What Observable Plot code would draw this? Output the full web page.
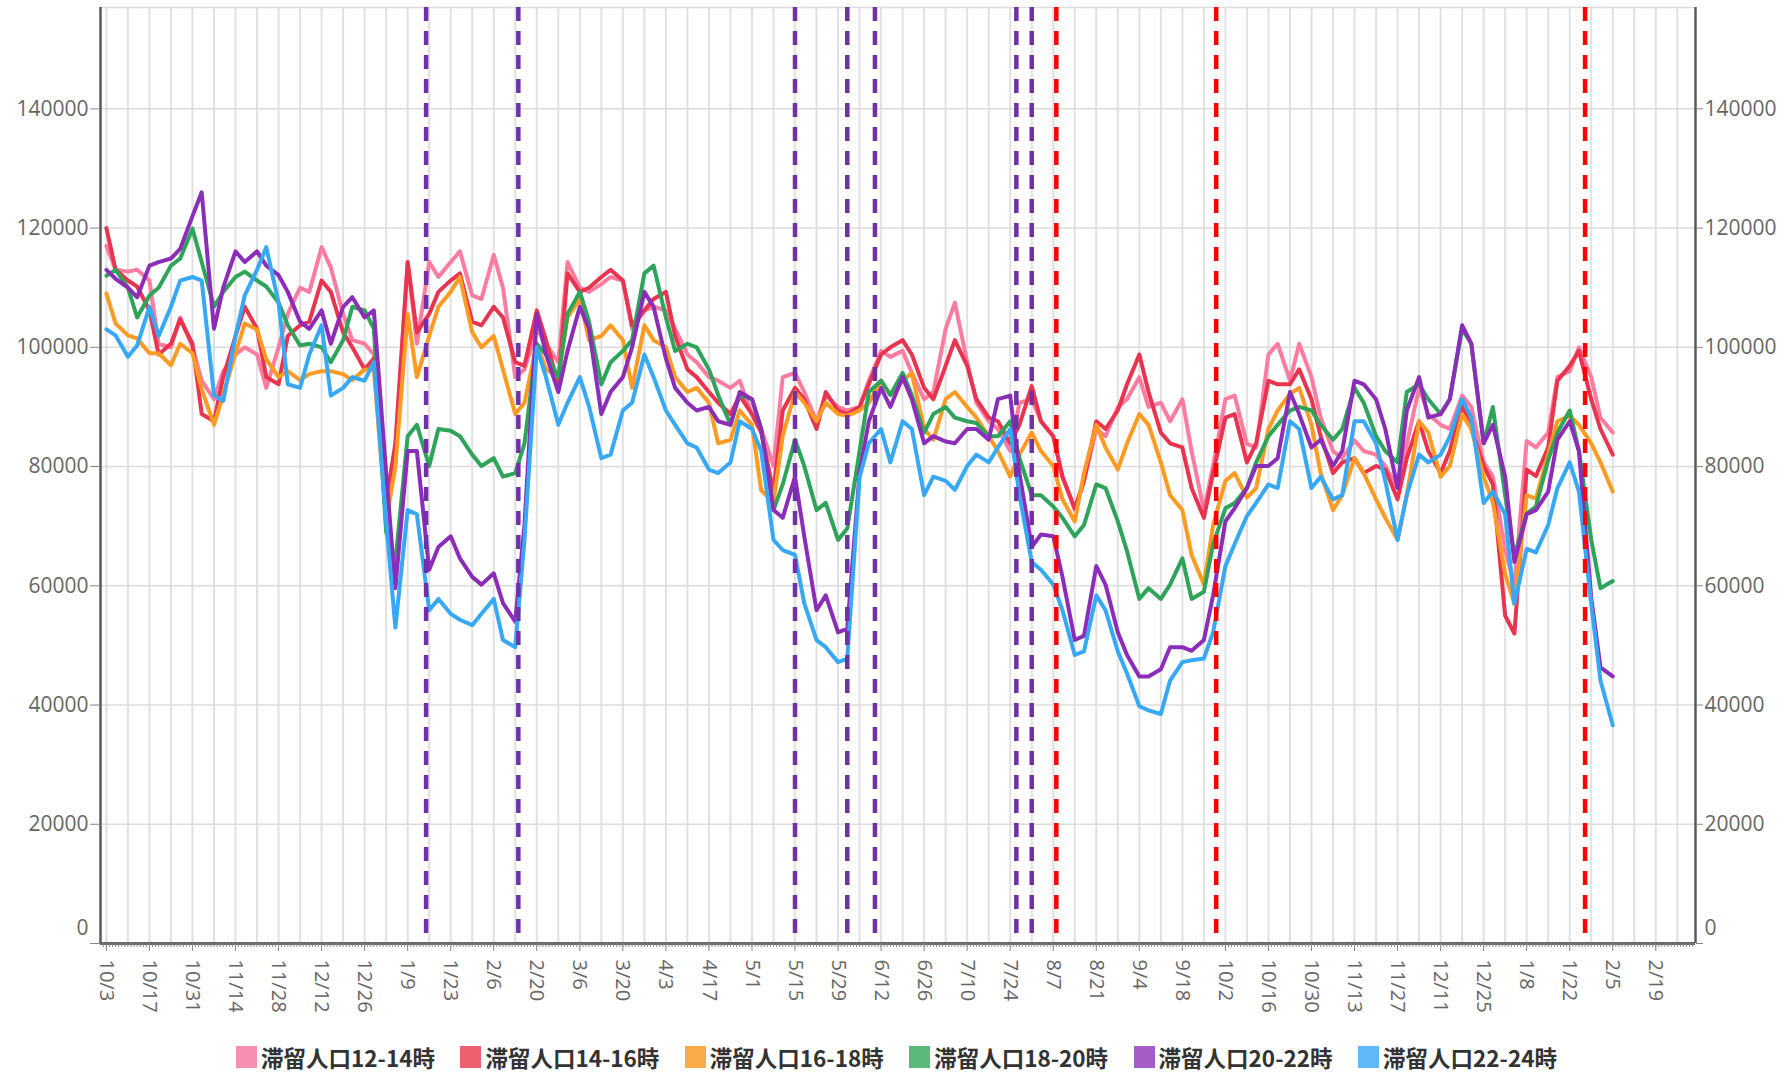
<!DOCTYPE html>
<html><head><meta charset="utf-8">
<script src="https://cdn.jsdelivr.net/npm/d3@7"></script>
<script src="https://cdn.jsdelivr.net/npm/@observablehq/plot@0.6"></script>
<style>
body{margin:0;background:#fff;width:1791px;height:1072px;overflow:hidden;position:relative;}
#chart{position:absolute;left:0;top:0;}
.item{position:absolute;top:1042px;height:30px;display:flex;align-items:center;font:bold 22.5px "Noto Sans CJK JP",sans-serif;line-height:26px;color:#333;white-space:nowrap;}
.sw{width:21px;height:22px;margin-right:4px;flex:none;}
</style></head><body>
<div id="chart"></div>
<div id="legend"></div>
<script>
const dates = [
"2020-10-03","2020-10-06","2020-10-10","2020-10-13","2020-10-17","2020-10-20","2020-10-24","2020-10-27","2020-10-31",
"2020-11-03","2020-11-07","2020-11-10","2020-11-14","2020-11-17","2020-11-21","2020-11-24","2020-11-28",
"2020-12-01","2020-12-05","2020-12-08","2020-12-12","2020-12-15","2020-12-19","2020-12-22","2020-12-26","2020-12-29",
"2021-01-02","2021-01-05","2021-01-09","2021-01-12","2021-01-16","2021-01-19","2021-01-23","2021-01-26","2021-01-30",
"2021-02-02","2021-02-06","2021-02-09","2021-02-13","2021-02-16","2021-02-20","2021-02-23","2021-02-27",
"2021-03-02","2021-03-06","2021-03-09","2021-03-13","2021-03-16","2021-03-20","2021-03-23","2021-03-27","2021-03-30",
"2021-04-03","2021-04-06","2021-04-10","2021-04-13","2021-04-17","2021-04-20","2021-04-24","2021-04-27",
"2021-05-01","2021-05-04","2021-05-08","2021-05-11","2021-05-15","2021-05-18","2021-05-22","2021-05-25","2021-05-29",
"2021-06-01","2021-06-05","2021-06-08","2021-06-12","2021-06-15","2021-06-19","2021-06-22","2021-06-26","2021-06-29",
"2021-07-03","2021-07-06","2021-07-10","2021-07-13","2021-07-17","2021-07-20","2021-07-24","2021-07-27","2021-07-31",
"2021-08-03","2021-08-07","2021-08-10","2021-08-14","2021-08-17","2021-08-21","2021-08-24","2021-08-28","2021-08-31",
"2021-09-04","2021-09-07","2021-09-11","2021-09-14","2021-09-18","2021-09-21","2021-09-25","2021-09-28",
"2021-10-02","2021-10-05","2021-10-09","2021-10-12","2021-10-16","2021-10-19","2021-10-23","2021-10-26","2021-10-30",
"2021-11-02","2021-11-06","2021-11-09","2021-11-13","2021-11-16","2021-11-20","2021-11-23","2021-11-27","2021-11-30",
"2021-12-04","2021-12-07","2021-12-11","2021-12-14","2021-12-18","2021-12-21","2021-12-25","2021-12-28",
"2022-01-01","2022-01-04","2022-01-08","2022-01-11","2022-01-15","2022-01-18","2022-01-22","2022-01-25","2022-01-29",
"2022-02-01","2022-02-05"
];

const seriesNames = ["滞留人口12-14時","滞留人口14-16時","滞留人口16-18時","滞留人口18-20時","滞留人口20-22時","滞留人口22-24時"];

const pop12_14 = [
117000,113000,112700,113000,111200,100600,100000,105000,100000,94400,91300,96000,98800,100000,98800,93200,100000,105600,110000,109300,116800,113400,105600,101200,100600,98800,
75200,82600,114300,100600,114300,111800,114300,116100,108700,108100,115500,110000,95000,96300,103100,100600,97500,114300,110000,109300,110600,111800,
111200,103100,106200,106800,106200,103100,98800,97500,95000,94400,93200,94400,88800,86300,80100,95000,95700,92500,87600,91900,90000,89400,90000,94400,
99400,98400,99400,95700,91300,92500,103100,107500,97500,90700,87600,86300,82600,90700,91300,87600,85100,78300,72700,77600,86300,85100,90000,91300,
95000,90000,90700,87600,91300,82600,72700,80100,91300,91900,83800,83200,98800,100600,94400,100600,95000,88200,82600,81400,84400,82600,82000,80100,
76400,83800,93200,88800,87000,86300,91900,90000,80700,78300,66000,60000,84300,83200,85700,95000,96000,100000,95000,88200,85700
];
const pop14_16 = [
120000,113000,111200,110200,106200,98800,100600,104700,100600,88800,87600,95000,101900,106800,103100,95000,93800,101900,103700,104300,111200,109300,102500,100000,96300,98100,
73900,83900,114300,102500,105600,109300,111200,112400,104300,103700,106800,105000,97500,96900,106200,101200,93800,112400,109300,110000,111800,113000,
111200,103700,106200,108100,109300,101900,96300,95000,92500,90700,88800,91900,88800,85700,75800,89400,93200,91300,86300,92500,89400,88800,90000,93800,
98800,100000,101200,98800,93200,91300,96900,101200,96900,91300,88200,87600,83900,87000,93500,87600,85100,78300,73000,77600,87600,86300,89400,93800,
98800,92500,85700,83900,83200,76400,71400,78900,88200,88800,80700,83900,94400,93800,93800,96300,91300,85100,78900,80700,81400,78900,80100,79500,
74500,81400,87600,82600,78900,82600,90400,86300,80100,77000,55000,52000,79500,78400,83200,94400,96900,99400,91300,86300,82000
];
const pop16_18 = [
109000,104000,102000,101500,99000,99000,97000,100600,99000,93000,87000,92000,99000,104000,103000,98000,95000,96000,94500,95500,96000,96000,95500,94500,96300,96300,
70800,80000,105600,95000,101900,106800,109300,111800,102500,100000,101900,96300,88800,90700,100600,96300,95000,105000,108100,101200,101900,103700,
101200,93200,103700,101200,100000,95000,92500,93200,90700,83900,84500,89400,87000,76000,74000,85100,92500,90700,87600,90700,88800,88500,89400,90700,
94400,92000,94400,95700,86300,84500,91300,92500,90000,88200,85100,82600,78300,82000,85700,82600,80100,74500,70800,78900,87000,83200,79500,83900,
88800,87000,80700,75200,72700,65200,60200,70200,77600,78900,74800,76400,86300,89400,92200,93200,87000,78900,72700,75200,81400,78900,74500,71400,
67700,75200,87600,85700,78300,80100,88800,86300,78300,74000,62000,57000,75200,74600,82000,87600,88500,87000,83900,80700,75800
];
const pop18_20 = [
112000,113000,110000,105000,108700,110000,113700,114900,119900,114300,106800,109300,111800,112700,111200,110200,107500,103700,100300,100600,100000,97500,101200,106800,106200,103100,
69000,64000,85100,87000,80100,86300,86000,85100,82000,80100,81400,78300,78900,83900,100600,98800,95000,105600,109300,104300,93800,97500,
99400,101200,112400,113700,105000,99400,100600,100000,96300,92000,87000,92000,91300,86300,72700,77000,84500,80100,72700,73900,67700,69600,82600,92500,
94400,92000,95700,92000,85700,88800,90000,88200,87600,87300,85100,85100,87600,81400,75200,75200,73300,71400,68300,70200,77000,76400,70800,65800,
57800,59600,57800,60200,64600,57800,59000,67000,73000,73900,76400,80700,85100,87000,89400,90000,89400,87000,84500,86300,93200,90700,85100,82600,
80700,92500,93800,91300,88800,91300,103100,100600,83900,90000,75200,65000,72100,73300,81100,85700,89400,82600,67700,59600,60800
];
const pop20_22 = [
113000,111500,110000,108400,113700,114300,114900,116500,122000,126000,103100,110000,116100,114300,116100,113700,112100,109300,104300,103100,106200,100600,106800,108400,105000,106200,
78900,59600,82600,82600,62700,66500,68300,64600,61500,60200,62100,57100,54000,70200,105600,98800,92500,99400,106800,103100,88800,92500,
95000,100000,109300,106800,98100,93200,90700,89400,90000,87600,87000,92500,91300,86300,72700,71400,78300,68300,55900,58400,52200,52800,78900,87600,
93200,90000,95000,91300,83900,85100,84200,83900,86300,86300,84500,91300,91900,78900,66500,68600,68300,61500,50900,51600,63300,60200,52200,48400,
44800,44800,46000,49700,49700,49100,50900,58400,70800,73000,76400,80100,80100,81400,92500,88800,83200,84500,80100,82600,94400,93800,91300,86300,
76400,89400,95000,88200,88800,91300,103700,100600,83900,87000,78300,64000,72000,72700,75800,84500,87600,82600,58000,46300,44800
];
const pop22_24 = [
103000,102000,98400,100300,106800,101900,106800,111200,111800,111200,92000,91000,101900,108700,113000,116800,107500,93800,93200,98800,103700,91900,93200,95000,94400,97500,
70800,53000,72700,72000,55900,57800,55300,54300,53400,55300,57800,50900,49700,67700,100000,95000,87000,90700,95000,90100,81400,82000,
89400,90700,98800,95000,89400,87000,83900,83200,79500,78900,80700,87600,86300,82600,67700,66000,65200,57100,50900,49700,47200,47800,78200,83900,
86300,80700,87600,86300,75200,78300,77600,76100,80100,82000,80700,83200,86300,75200,64000,62700,60200,55900,48400,49000,58400,55900,49000,45300,
39800,39100,38500,44100,47200,47500,47800,52200,63300,67000,71700,73900,77000,76400,87600,86300,76400,78300,74500,75200,87600,87600,83900,77600,
67700,75200,82000,80700,82000,85000,91300,88200,73900,75800,72000,57000,66200,65600,70200,76400,80700,75800,57000,44100,36600
];

const lineColors = ["#ff7ba0","#e8344e","#ff9a22","#2ea35a","#8b2db8","#37a8f5"];
const swatchColors = ["#f590b0","#ee5f70","#f9ab4a","#5cb97c","#a45cc6","#60b8f8"];

const purpleEvents = ["2021-01-15","2021-02-14","2021-05-15","2021-06-01","2021-06-10","2021-07-26","2021-07-31"];
const redEvents = ["2021-08-08","2021-09-29","2022-01-27"];

const yTicks = [0,20000,40000,60000,80000,100000,120000,140000];

const parse = d3.utcParse("%Y-%m-%d");
const dateObjs = dates.map(parse);
const allSeries = [pop12_14,pop14_16,pop16_18,pop18_20,pop20_22,pop22_24];

const xDomain = [new Date(Date.UTC(2020,9,1,2)), new Date(Date.UTC(2022,2,3,22))];
const yMax = 157000;
const gridStart = new Date(Date.UTC(2020,9,3));
const weekly = d3.utcDay.range(gridStart, xDomain[1], 7);
const biweekly = d3.utcDay.range(gridStart, xDomain[1], 14);
const daily = d3.utcDay.range(new Date(Date.UTC(2020,9,2)), xDomain[1], 1);
const fmt = d3.utcFormat("%-m/%-d");

const lineMarks = allSeries.map((vals, i) =>
  Plot.line(vals.map((v, j) => ({date: dateObjs[j], value: v})), {
    x: "date", y: "value", stroke: lineColors[i], strokeWidth: 4,
    strokeLinejoin: "round", strokeLinecap: "round"
  })
);

const chart = Plot.plot({
  width: 1791,
  height: 1030,
  marginLeft: 100,
  marginRight: 96,
  marginTop: 7,
  marginBottom: 87,
  style: {background: "white", color: "#666", fontFamily: "'Open Sans', sans-serif", fontSize: "20px", overflow: "visible"},
  x: {type: "utc", domain: xDomain},
  y: {domain: [0, yMax]},
  marks: [
    Plot.ruleX(weekly, {stroke: "#e1e1e1", strokeWidth: 2}),
    Plot.ruleY(yTicks.concat([yMax]), {stroke: "#dcdcdc", strokeWidth: 1.5}),
    ...lineMarks,
    Plot.ruleX(purpleEvents.map(parse), {stroke: "#7030a8", strokeWidth: 4.5, strokeDasharray: "14,10"}),
    Plot.ruleX(redEvents.map(parse), {stroke: "#ff0000", strokeWidth: 4.5, strokeDasharray: "14,10"}),
    Plot.ruleX(xDomain, {stroke: "#5a5a5a", strokeWidth: 2.5}),
    Plot.ruleY([0], {stroke: "#666", strokeWidth: 3}),
    Plot.axisX(daily, {anchor: "bottom", tickSize: 4, tickFormat: () => "", label: null, stroke: "#888"}),
    Plot.axisX(biweekly, {anchor: "bottom", tickSize: 8, tickPadding: 8, tickRotate: 90, tickFormat: fmt, fontSize: 20, label: null, fill: "#666", stroke: "#888"}),
    Plot.axisY(yTicks, {anchor: "left", tickSize: 10, tickPadding: 2, fontSize: 21, tickFormat: d => d === 0 ? "" : String(d), label: null, fill: "#666", stroke: "#888"}),
    Plot.axisY(yTicks, {anchor: "right", tickSize: 7, tickPadding: 2, fontSize: 21, tickFormat: d => d === 0 ? "" : String(d), label: null, fill: "#666", stroke: "#888"}),
    Plot.text([0], {y: d => d, frameAnchor: "left", dx: -12, dy: -15, textAnchor: "end", fontSize: 21, fill: "#666"}),
    Plot.text([0], {y: d => d, frameAnchor: "right", dx: 9, dy: -15, textAnchor: "start", fontSize: 21, fill: "#666"})
  ]
});
document.getElementById("chart").appendChild(chart);

const legend = document.getElementById("legend");
seriesNames.forEach((name, i) => {
  const item = document.createElement("div");
  item.className = "item";
  item.style.left = (236 + i * 224.4) + "px";
  const sw = document.createElement("div");
  sw.className = "sw";
  sw.style.background = swatchColors[i];
  const tx = document.createElement("span");
  tx.textContent = name;
  item.appendChild(sw);
  item.appendChild(tx);
  legend.appendChild(item);
});
</script>
</body></html>
